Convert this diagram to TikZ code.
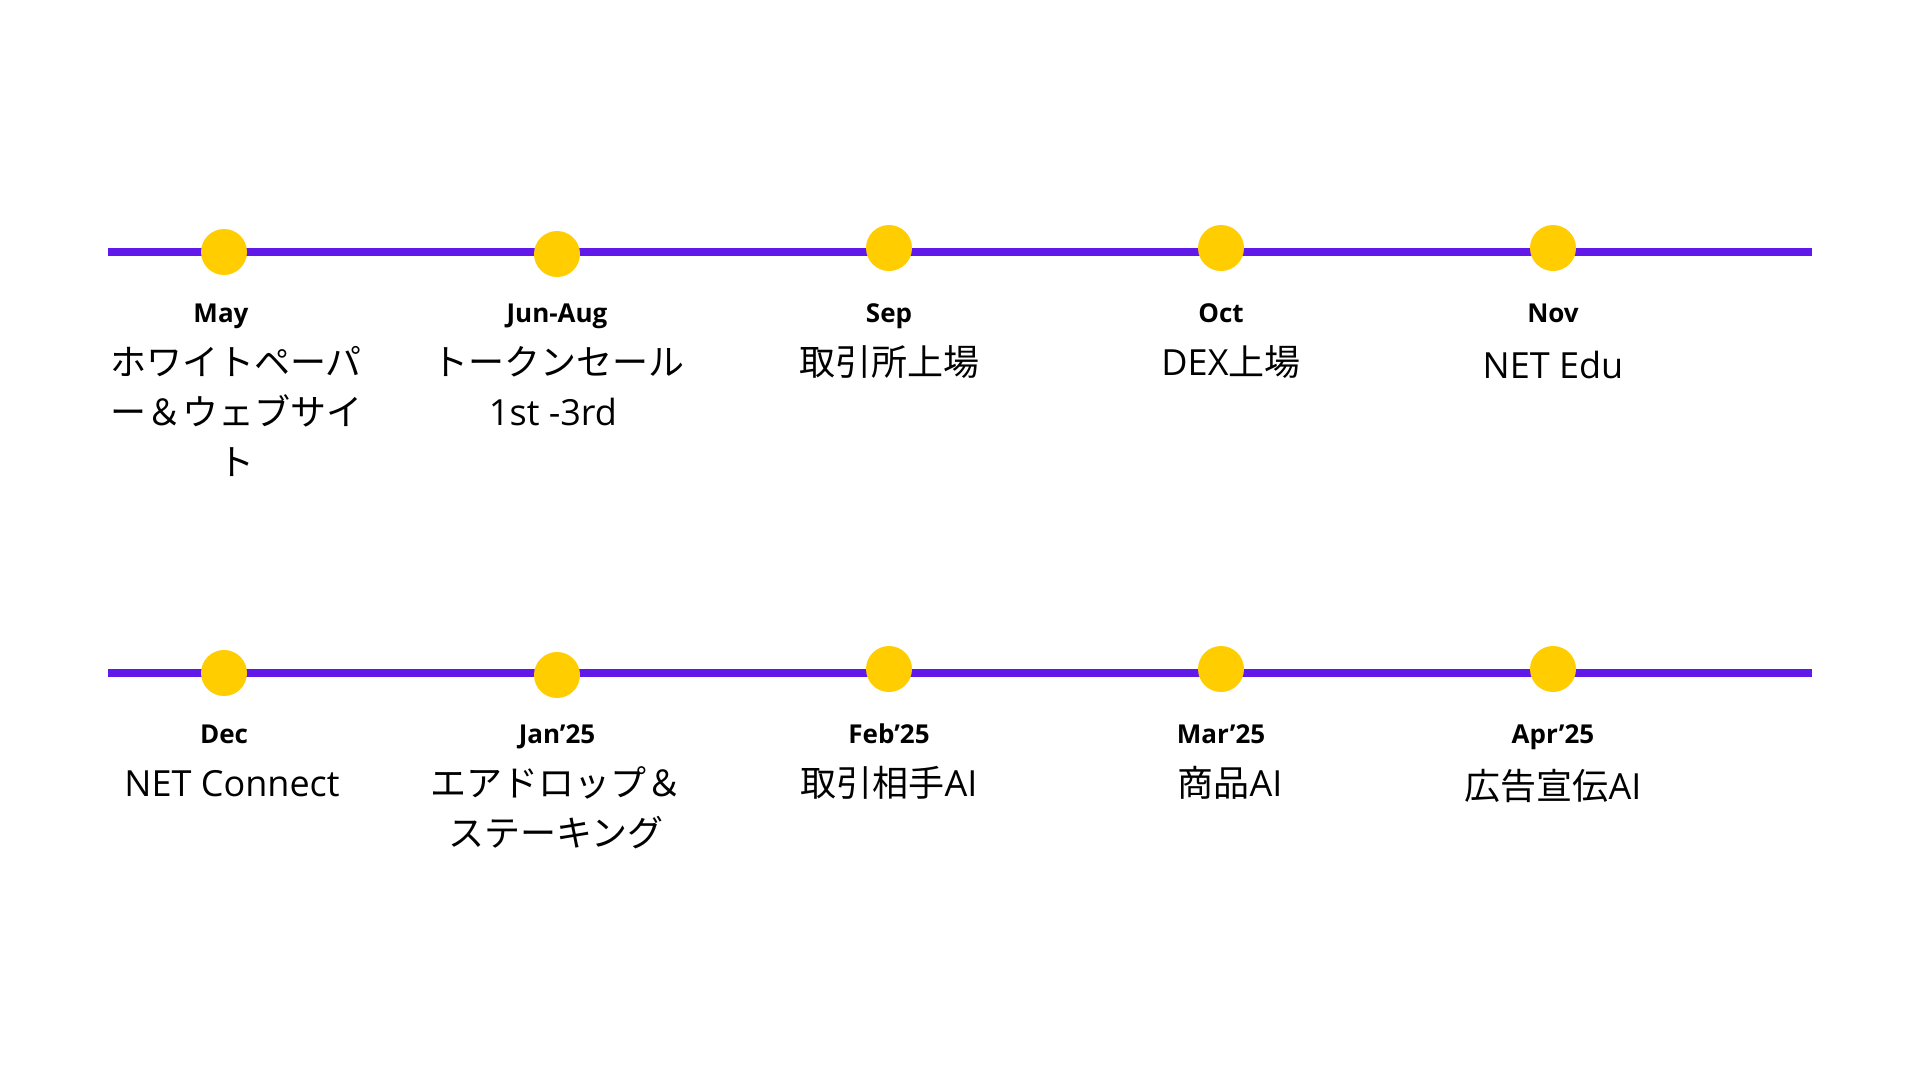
\documentclass[tikz,border=0pt]{standalone}
\usepackage{fontspec}
\setmainfont{Open Sans}
\newfontfamily\jpfont{Noto Sans CJK JP}
\usepackage{xcolor}
\usepackage{tikz}
\usetikzlibrary{positioning}
\definecolor{roadpurple}{RGB}{96,25,233}
\definecolor{roadyellow}{RGB}{255,205,0}
\newcommand{\descfont}{\fontsize{36}{50}\selectfont}
\newcommand{\monthfont}{\fontsize{26}{30}\selectfont\bfseries}

\begin{document}
\begin{tikzpicture}[
    x=1pt, y=-1pt,
    dot/.style={circle, fill=roadyellow, minimum size=46pt, inner sep=0pt},
    month/.style={anchor=base, inner sep=0pt, font=\monthfont},
    desc/.style={inner sep=0pt, align=center, font=\descfont},
    track/.style={draw=roadpurple, line width=7.5pt}
]
\useasboundingbox[fill=white] (0,0) rectangle (1920,1080);

% first row
\coordinate (rowastart) at (108,252);
\coordinate (rowaend) at (1812,252);
\draw[track] (rowastart) -- (rowaend);
\node[dot] (maydot) at (224,252) {};
\node[dot] (jundot) at (557,254) {};
\node[dot] (sepdot) at (889,248) {};
\node[dot] (octdot) at (1221,248) {};
\node[dot] (novdot) at (1553,248) {};
\node[month] (may) at (221,322) {May};
\node[month] (jun) at (557,322) {Jun-Aug};
\node[month] (sep) at (889,322) {Sep};
\node[month] (oct) at (1221,322) {Oct};
\node[month] (nov) at (1553,322) {Nov};
\node[desc, below=18pt of may.base, xshift=15pt] (maytext) {\strut{\jpfont ホワイトペーパ}\\{\jpfont ー＆ウェブサイ}\\{\jpfont ト}};
\node[desc, below=18pt of jun.base, xshift=1pt] (juntext) {\strut{\jpfont トークンセール}\\1st -3rd\hspace*{10pt}};
\node[desc, below=18pt of sep.base] (septext) {\strut{\jpfont 取引所上場}};
\node[desc, below=18pt of oct.base, xshift=10pt] (octtext) {\strut DEX{\jpfont 上場}};
\node[desc, below=21pt of nov.base] (novtext) {\strut NET Edu};

% second row
\coordinate (rowbstart) at (108,673);
\coordinate (rowbend) at (1812,673);
\draw[track] (rowbstart) -- (rowbend);
\node[dot] (decdot) at (224,673) {};
\node[dot] (jandot) at (557,675) {};
\node[dot] (febdot) at (889,669) {};
\node[dot] (mardot) at (1221,669) {};
\node[dot] (aprdot) at (1553,669) {};
\node[month] (dec) at (224,743) {Dec};
\node[month] (jan) at (557,743) {Jan’25};
\node[month] (feb) at (889,743) {Feb’25};
\node[month] (mar) at (1221,743) {Mar’25};
\node[month] (apr) at (1553,743) {Apr’25};
\node[desc, below=18pt of dec.base, xshift=8pt] (dectext) {\strut NET Connect};
\node[desc, below=18pt of jan.base, xshift=-1pt] (jantext) {\strut{\jpfont エアドロップ＆}\\{\jpfont ステーキング}};
\node[desc, below=18pt of feb.base] (febtext) {\strut{\jpfont 取引相手}AI};
\node[desc, below=18pt of mar.base, xshift=9pt] (martext) {\strut{\jpfont 商品}AI};
\node[desc, below=21pt of apr.base] (aprtext) {\strut{\jpfont 広告宣伝}AI};
\end{tikzpicture}
\end{document}
